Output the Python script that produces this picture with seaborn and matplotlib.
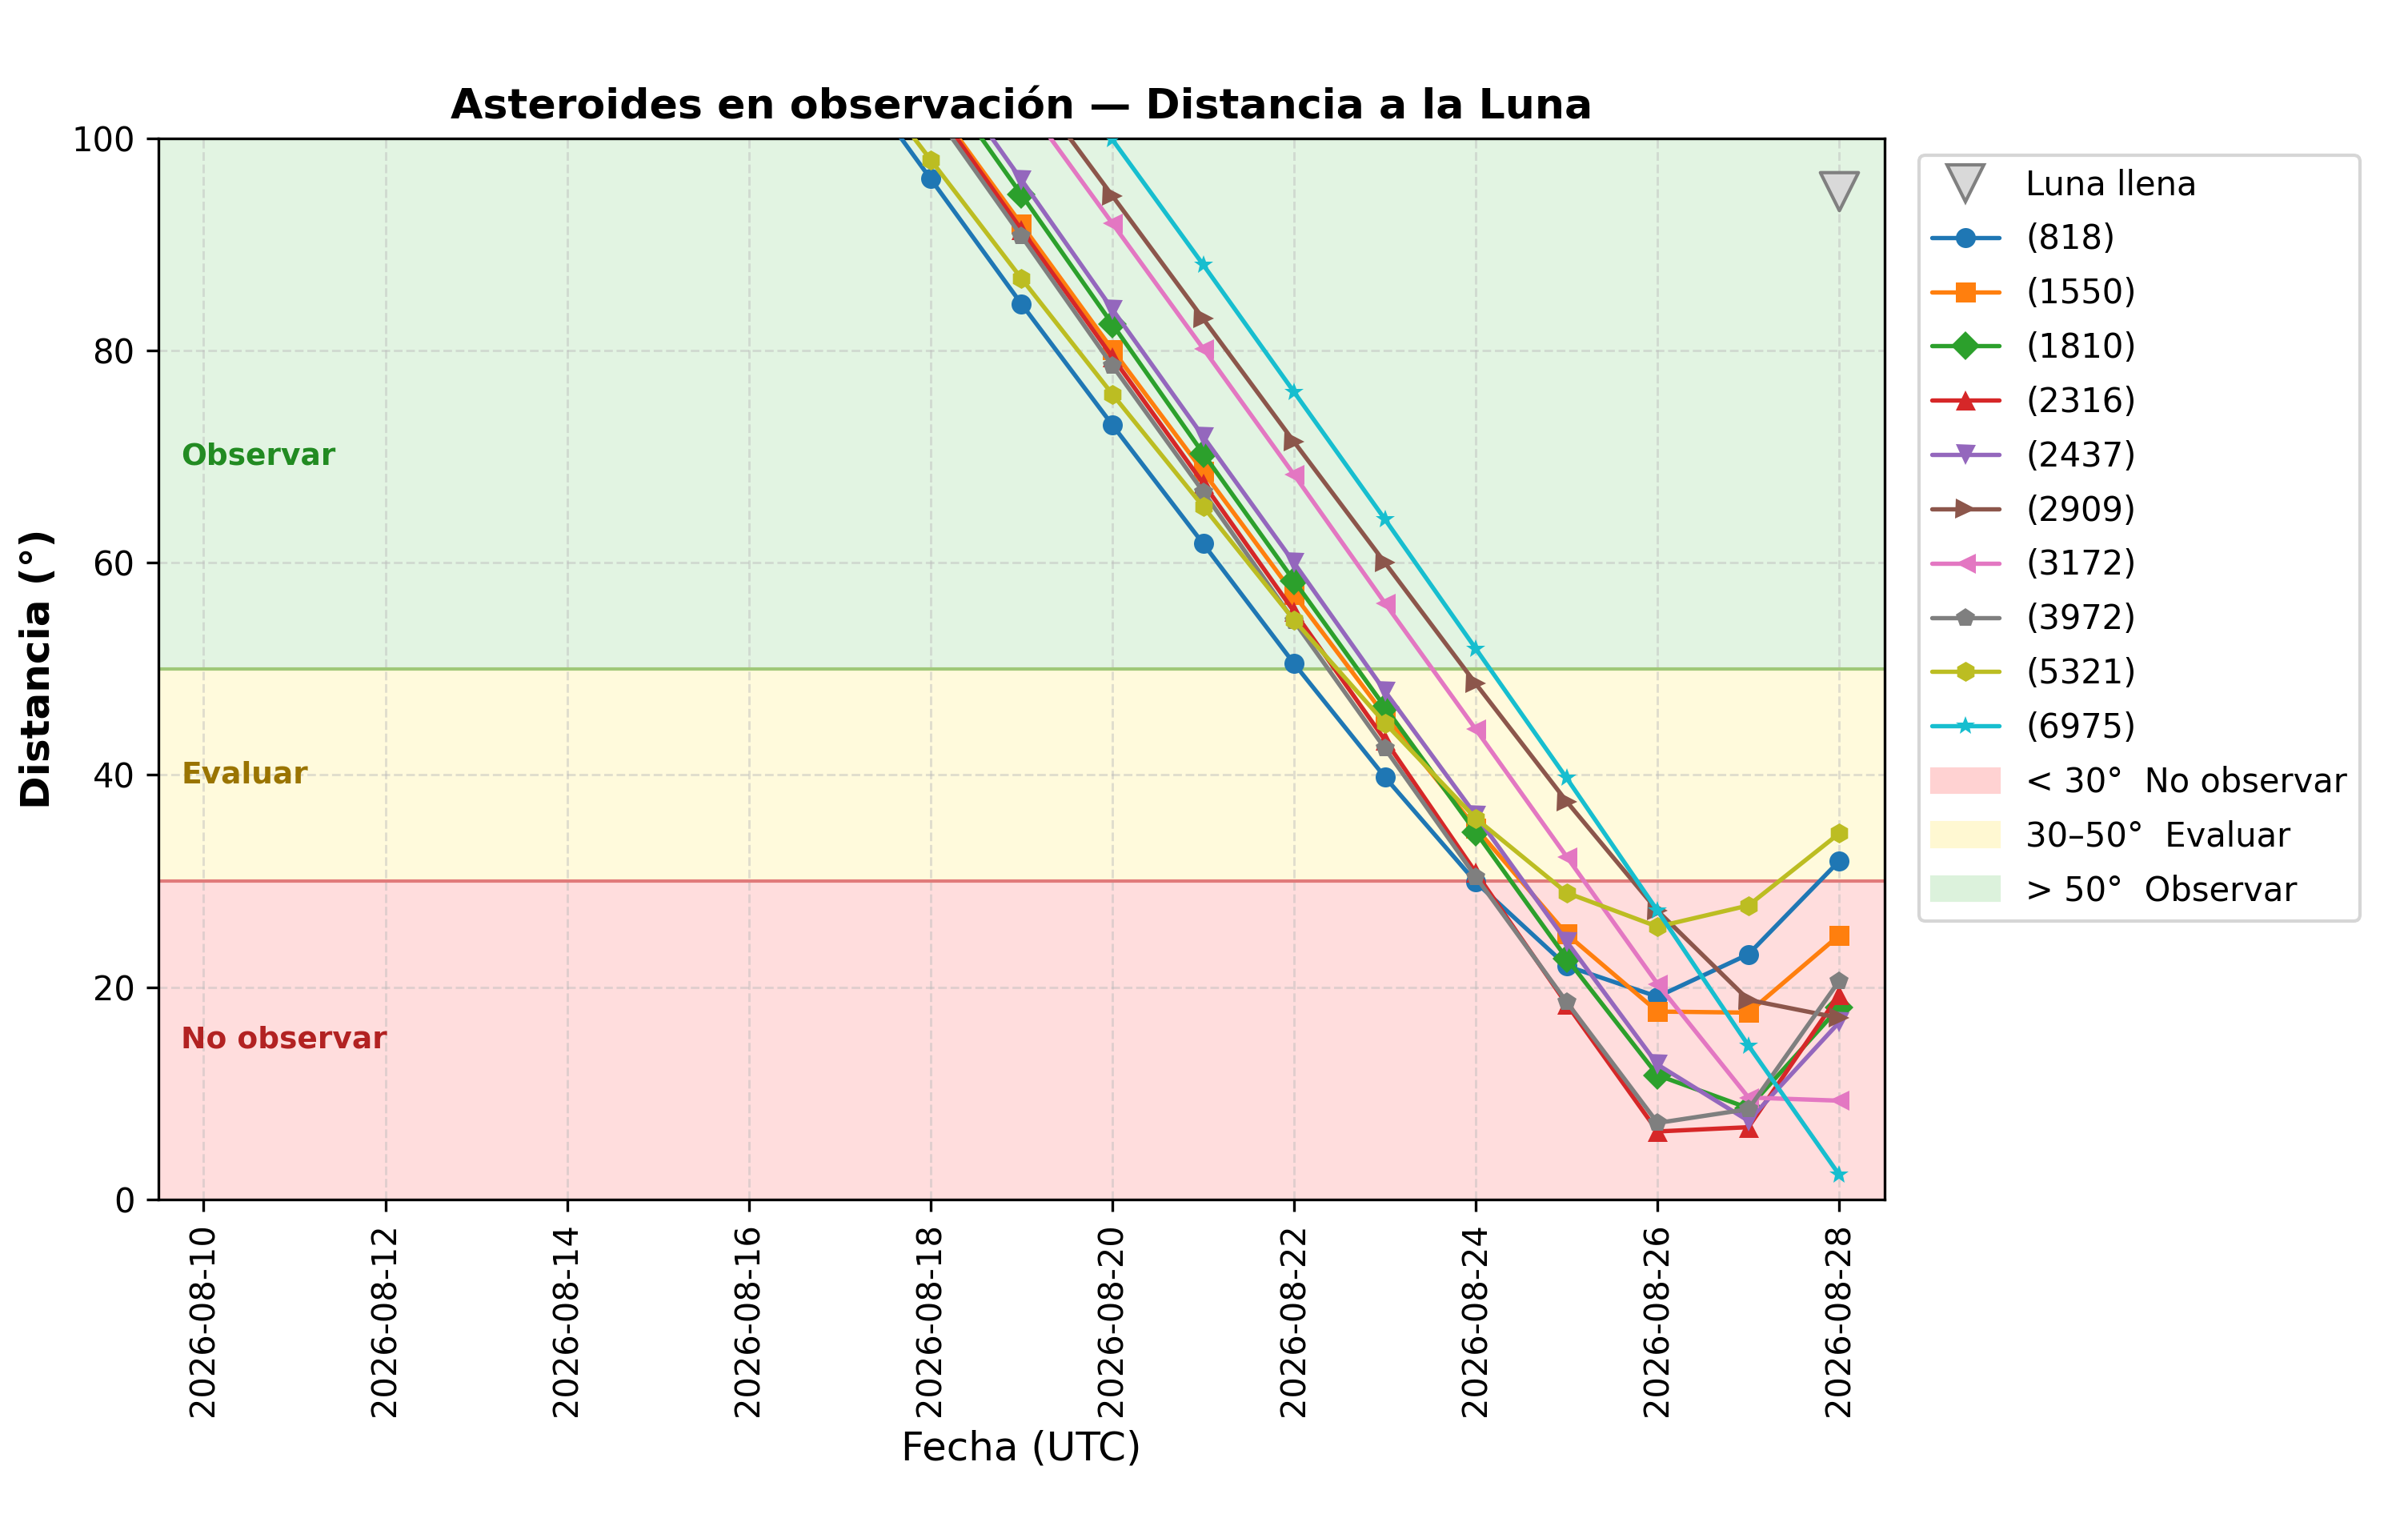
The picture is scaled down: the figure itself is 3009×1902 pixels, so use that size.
import pandas as pd
import seaborn as sns
import matplotlib.pyplot as plt
import matplotlib.dates as mdates
from matplotlib.lines import Line2D
from matplotlib.patches import Patch

# fechas de muestreo (una por dia)
dates = pd.date_range("2026-08-17", "2026-08-28", freq="D")

# distancia angular a la Luna (grados) por asteroide
d_818 = [108.0, 96.2, 84.4, 73.0, 61.8, 50.5, 39.8, 29.9, 22.0, 19.1, 23.1, 31.9]
d_1550 = [115.5, 103.7, 91.9, 80.1, 68.6, 57.0, 45.6, 35.0, 25.0, 17.7, 17.6, 24.9]
d_1810 = [118.9, 106.8, 94.7, 82.5, 70.3, 58.3, 46.4, 34.6, 22.7, 11.7, 8.6, 18.1]
d_2316 = [115.6, 103.5, 91.4, 79.4, 67.5, 55.4, 43.3, 30.8, 18.4, 6.4, 6.8, 19.3]
d_2437 = [120.3, 108.2, 96.1, 83.9, 71.9, 60.0, 47.9, 36.2, 24.3, 12.7, 7.4, 16.7]
d_2909 = [129.5, 117.8, 106.2, 94.6, 83.0, 71.4, 60.0, 48.6, 37.5, 27.2, 18.8, 17.1]
d_3172 = [127.4, 115.6, 103.8, 92.0, 80.2, 68.3, 56.2, 44.3, 32.3, 20.3, 9.6, 9.3]
d_3972 = [114.9, 102.9, 90.8, 78.6, 66.7, 54.5, 42.5, 30.4, 18.6, 7.2, 8.5, 20.6]
d_5321 = [109.2, 98.0, 86.8, 75.9, 65.3, 54.6, 44.9, 35.9, 28.9, 25.7, 27.7, 34.5]
d_6975 = [135.5, 123.7, 111.8, 99.9, 88.1, 76.1, 64.1, 51.9, 39.7, 27.2, 14.5, 2.3]

names = ["(818)", "(1550)", "(1810)", "(2316)", "(2437)",
         "(2909)", "(3172)", "(3972)", "(5321)", "(6975)"]
series = [d_818, d_1550, d_1810, d_2316, d_2437,
          d_2909, d_3172, d_3972, d_5321, d_6975]

# luna llena
moon_dates = pd.to_datetime(["2026-08-28"])
moon_y = [95]

tick_dates = pd.date_range("2026-08-10", "2026-08-28", freq="2D")

df = pd.concat(
    [pd.DataFrame({"fecha": dates, "dist": vals, "asteroide": name})
     for name, vals in zip(names, series)],
    ignore_index=True,
)

sns.set_style("ticks")
plt.rcParams["font.family"] = ["DejaVu Sans"]
plt.rcParams["text.color"] = "black"
plt.rcParams["axes.labelcolor"] = "black"
plt.rcParams["xtick.color"] = "black"
plt.rcParams["ytick.color"] = "black"

fig = plt.figure(figsize=(10.03, 6.34), dpi=300)
ax = fig.add_axes([0.0657, 0.212, 0.717, 0.697])

# zonas
ax.axhspan(0, 30, color="#ffdddd", zorder=0, lw=0)
ax.axhspan(30, 50, color="#fffadc", zorder=0, lw=0)
ax.axhspan(50, 100, color="#e2f4e2", zorder=0, lw=0)
ax.axhline(30, color="#e07a7a", lw=1.0, zorder=1)
ax.axhline(50, color="#a0c878", lw=1.0, zorder=1)
ax.grid(True, linestyle="--", color="#bbbbbb", alpha=0.45, lw=0.7, zorder=1)
ax.set_axisbelow(True)

markers = ["o", "s", "D", "^", "v", ">", "<", "p", "h", "*"]
sns.lineplot(data=df, x="fecha", y="dist", hue="asteroide", style="asteroide",
             palette="tab10", markers=markers, dashes=False, markersize=6,
             markeredgewidth=0, linewidth=1.3, ax=ax, legend=True, zorder=3)

leg = ax.get_legend()
line_handles = list(leg.legend_handles)
line_labels = [t.get_text() for t in leg.get_texts()]
leg.remove()

ax.scatter(moon_dates, moon_y, marker="v", s=130, facecolor="#d9d9d9",
           edgecolor="#808080", linewidth=1.0, zorder=4)

left = pd.Timestamp("2026-08-09 12:00")
right = pd.Timestamp("2026-08-28 12:00")
ax.set_xlim(left, right)
ax.set_ylim(0, 100)

tx = pd.Timestamp("2026-08-09 18:00")
ax.text(tx, 70, "Observar", color="#228b22", fontsize=9, fontweight="bold", va="center")
ax.text(tx, 40, "Evaluar", color="#9a7400", fontsize=9, fontweight="bold", va="center")
ax.text(tx, 15, "No observar", color="#b22222", fontsize=9, fontweight="bold", va="center")

ax.set_xticks(tick_dates)
ax.xaxis.set_major_formatter(mdates.DateFormatter("%Y-%m-%d"))
plt.setp(ax.get_xticklabels(), rotation=90)
ax.tick_params(labelsize=10, colors="black")

ax.set_title("Asteroides en observación — Distancia a la Luna",
             fontsize=12.5, fontweight="bold", color="black")
ax.set_xlabel("Fecha (UTC)", fontsize=12, color="black")
ax.set_ylabel("Distancia (°)", fontsize=12, fontweight="bold", color="black")
for sp in ax.spines.values():
    sp.set_color("black")

moon_handle = Line2D([], [], marker="v", linestyle="none", markersize=11,
                     markerfacecolor="#d9d9d9", markeredgecolor="#808080")
zone_handles = [Patch(color="#ffd2d2"), Patch(color="#fff8d2"), Patch(color="#dcf2dc")]
zone_labels = ["< 30°  No observar", "30–50°  Evaluar", "> 50°  Observar"]

lg = ax.legend([moon_handle] + line_handles + zone_handles,
               ["Luna llena"] + line_labels + zone_labels,
               loc="upper left", bbox_to_anchor=(1.01, 1.0), fontsize=10,
               labelspacing=0.62, frameon=True)
for t in lg.get_texts():
    t.set_color("black")

fig.savefig("out.png", dpi=300)
